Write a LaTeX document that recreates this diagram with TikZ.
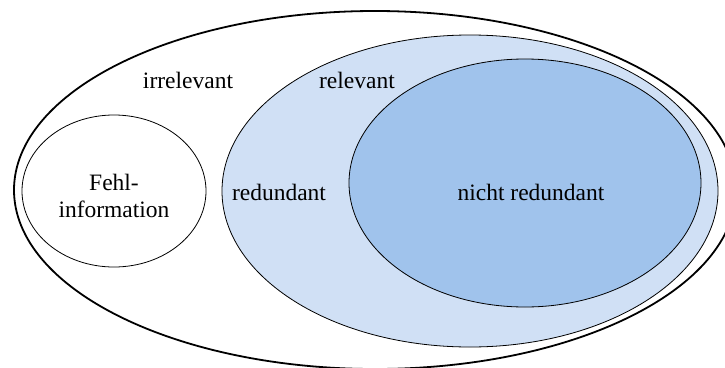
\documentclass[tikz,border=0pt]{standalone}
\usepackage{fontspec}
\setmainfont{Liberation Serif}
\usetikzlibrary{shapes.geometric}
\definecolor{lightblue}{RGB}{208,224,245}
\definecolor{midblue}{RGB}{160,195,236}
\tikzset{
	oval/.style 2 args={ellipse,draw,inner sep=0pt,minimum width=#1,minimum height=#2},
	lbl/.style={font=\fontsize{23.5}{27}\selectfont,align=center,inner sep=0pt}
}
\begin{document}
\begin{tikzpicture}[x=1pt,y=-1pt]
						\useasboundingbox (0,0) rectangle (725,367);
						\clip (0,0) rectangle (725,367);
						\node [oval={361pt*2}{179pt*2},line width=1.8pt,fill=white] (irr) at (375,190) {};
						\node [oval={92pt*2}{76pt*2},line width=0.8pt,fill=white] (fehl) at (114,191) {};
						\node [oval={248pt*2}{156pt*2},line width=0.8pt,fill=lightblue] (rel) at (470,191) {};
						\node [oval={176pt*2}{124pt*2},line width=0.8pt,fill=midblue] (nred) at (525,183) {};
						
						\node [lbl] (irrtext) at (188,80) {irrelevant};
						\node [lbl] (reltext) at (357,80) {relevant};
						\node [lbl] (fehltext) at (114,196) {Fehl-\\information};
						\node [lbl] (redtext) at (279,192) {redundant};
						\node [lbl] (nredtext) at (531,192) {nicht redundant};
					\end{tikzpicture}
\end{document}
